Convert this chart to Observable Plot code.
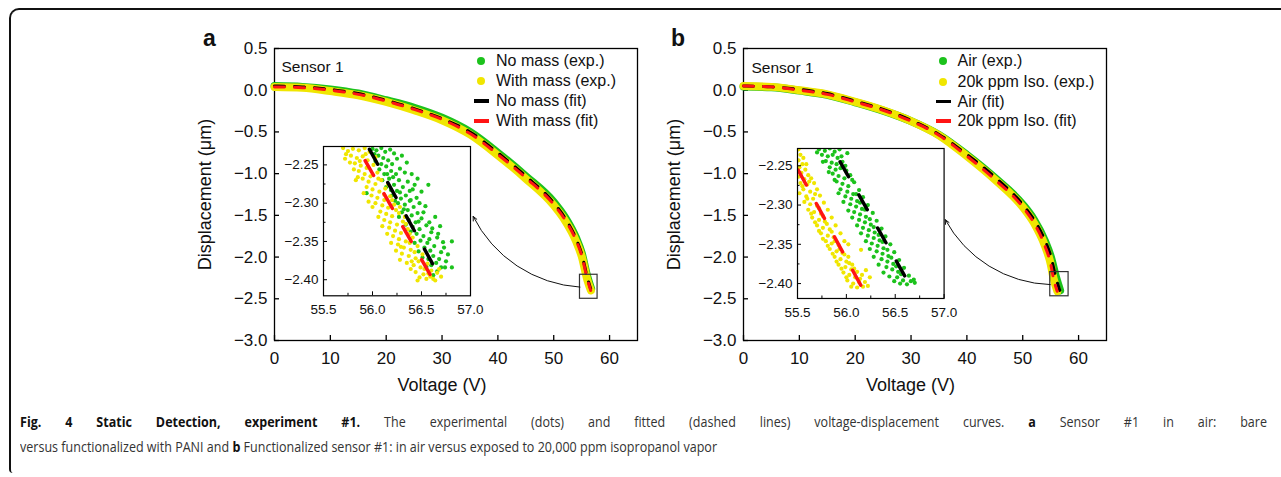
<!DOCTYPE html>
<html><head><meta charset="utf-8">
<script src="https://cdn.jsdelivr.net/npm/d3@7"></script>
<script src="https://cdn.jsdelivr.net/npm/@observablehq/plot@0.6"></script>
<style>
html,body{margin:0;padding:0;background:#fff;}
#fig{position:relative;width:1281px;height:477px;overflow:hidden;background:#fff;font-family:"Liberation Sans",Arial,Helvetica,sans-serif;color:#111;}
#border{position:absolute;left:9px;top:8px;width:1400px;height:463px;border-left:2px solid #111;border-top:2px solid #111;border-top-left-radius:10px;border-bottom-left-radius:4px;}
.abs{position:absolute;}
.plab{position:absolute;font-weight:bold;font-size:23px;line-height:1;}
.leg{position:absolute;font-size:16px;line-height:20px;height:20px;white-space:nowrap;}
.cap{position:absolute;left:20px;font-family:"Open Sans","Noto Sans",sans-serif;font-size:15px;color:#333;white-space:nowrap;transform-origin:0 50%;line-height:20px;}
.cap b{color:#111;}
</style>
</head><body>
<div id="fig"><div id="border"></div></div>
<script>
// ---------------- colours ----------------
const GREEN = "#1cc21c", YELLOW = "#f0e600", RED = "#ff1414", BLACK = "#000000";

// ---------------- ticks ----------------
const xTicksMain = [0, 10, 20, 30, 40, 50, 60];
const yTicksMain = [-3.0, -2.5, -2.0, -1.5, -1.0, -0.5, 0.0, 0.5];
const insetXTicks = [55.5, 56.0, 56.5, 57.0];
const insetXMinor = [55.75, 56.25, 56.75];
const insetYTicks = [-2.25, -2.30, -2.35, -2.40];
const insetYMinor = [-2.275, -2.325, -2.375];

// ---------------- panel a : main curves ----------------
const aVoltNoMassExp   = [0, 5, 10, 15, 20, 25, 30, 35, 40, 45, 50, 52, 54, 55, 56, 56.7];
const aDispNoMassExp   = [0.05, 0.04, 0.01, -0.04, -0.12, -0.21, -0.33, -0.50, -0.75, -1.03, -1.34, -1.52, -1.77, -1.95, -2.23, -2.38];
const aVoltWithMassExp = [0, 5, 10, 15, 20, 25, 30, 35, 40, 45, 50, 52, 54, 55, 56, 56.65];
const aDispWithMassExp = [0.04, 0.03, -0.01, -0.06, -0.14, -0.24, -0.36, -0.53, -0.78, -1.06, -1.38, -1.56, -1.81, -1.99, -2.27, -2.40];
const aVoltNoMassFit   = [0, 5, 10, 15, 20, 25, 30, 35, 40, 45, 50, 52, 54, 55, 56, 56.61];
const aDispNoMassFit   = [0.05, 0.04, 0.01, -0.04, -0.12, -0.22, -0.34, -0.50, -0.75, -1.03, -1.35, -1.53, -1.78, -1.96, -2.24, -2.38];
const aVoltWithMassFit = [0, 5, 10, 15, 20, 25, 30, 35, 40, 45, 50, 52, 54, 55, 56, 56.62];
const aDispWithMassFit = [0.04, 0.03, 0.00, -0.05, -0.13, -0.23, -0.35, -0.52, -0.77, -1.05, -1.37, -1.55, -1.80, -1.98, -2.26, -2.40];

// ---------------- panel b : main curves ----------------
const bVoltAirExp = [0, 5, 10, 15, 20, 25, 30, 35, 40, 45, 50, 52, 54, 55, 56, 56.7];
const bDispAirExp = [0.045, 0.035, -0.005, -0.055, -0.145, -0.245, -0.37, -0.535, -0.775, -1.05, -1.37, -1.55, -1.81, -1.99, -2.25, -2.40];
const bVoltIsoExp = [0, 5, 10, 15, 20, 25, 30, 35, 40, 45, 50, 52, 54, 55, 55.5, 56.2];
const bDispIsoExp = [0.05, 0.04, 0.00, -0.05, -0.14, -0.24, -0.37, -0.54, -0.79, -1.07, -1.40, -1.59, -1.87, -2.08, -2.25, -2.41];
const bVoltAirFit = [0, 5, 10, 15, 20, 25, 30, 35, 40, 45, 50, 52, 54, 55, 56, 56.64];
const bDispAirFit = [0.05, 0.04, 0.01, -0.04, -0.13, -0.23, -0.36, -0.53, -0.77, -1.04, -1.37, -1.55, -1.80, -1.98, -2.26, -2.40];
const bVoltIsoFit = [0, 5, 10, 15, 20, 25, 30, 35, 40, 45, 50, 52, 54, 55, 55.5, 56.17];
const bDispIsoFit = [0.05, 0.04, 0.00, -0.05, -0.14, -0.24, -0.37, -0.54, -0.79, -1.07, -1.40, -1.59, -1.87, -2.08, -2.25, -2.41];

// ---------------- panel a : inset (zoom) data ----------------
const aInsetNoMassExp = [[56.00,-2.229],[56.04,-2.231],[56.09,-2.228],[56.13,-2.233],[56.18,-2.230],[56.22,-2.235],[56.06,-2.238],[56.11,-2.241],[56.16,-2.244],[56.25,-2.242],[56.02,-2.236],[56.20,-2.249],[56.14,-2.252],[56.09,-2.249],[56.28,-2.255],[56.19,-2.258],[56.24,-2.262],[56.33,-2.260],[56.12,-2.262],[56.17,-2.268],[56.27,-2.270],[56.36,-2.272],[56.22,-2.276],[56.31,-2.279],[56.46,-2.268],[56.41,-2.282],[56.25,-2.284],[55.94,-2.287],[56.34,-2.290],[56.29,-2.294],[56.38,-2.297],[56.45,-2.293],[56.33,-2.302],[56.42,-2.305],[56.36,-2.309],[56.48,-2.300],[56.30,-2.312],[56.40,-2.316],[56.46,-2.313],[56.37,-2.322],[56.44,-2.325],[56.50,-2.320],[56.41,-2.331],[56.48,-2.334],[56.55,-2.329],[56.45,-2.340],[56.52,-2.343],[56.60,-2.338],[56.66,-2.345],[56.81,-2.350],[56.49,-2.349],[56.56,-2.352],[56.63,-2.356],[56.73,-2.358],[56.70,-2.364],[56.53,-2.358],[56.59,-2.362],[56.77,-2.367],[56.62,-2.369],[56.68,-2.373],[56.57,-2.373],[56.65,-2.378],[56.75,-2.376],[56.81,-2.384],[56.60,-2.381],[56.70,-2.384],[56.66,-2.389],[56.50,-2.285],[56.57,-2.276],[56.39,-2.296],[56.26,-2.300],[56.20,-2.290],[56.52,-2.312],[56.58,-2.325],[56.61,-2.333],[56.67,-2.340],
  [56.03,-2.245],[56.07,-2.256],[56.15,-2.262],[56.10,-2.270],[56.21,-2.266],[56.14,-2.279],[56.19,-2.283],[56.28,-2.286],[56.23,-2.297],[56.32,-2.308],[56.27,-2.318],[56.34,-2.328],[56.39,-2.337],[56.43,-2.352],[56.47,-2.363],[56.51,-2.371],[56.55,-2.383],[56.62,-2.394],[56.72,-2.351],[56.64,-2.318],[56.69,-2.330],[56.54,-2.304],[56.43,-2.276],[56.35,-2.247],[56.30,-2.238],[56.40,-2.262],[56.58,-2.347],[56.74,-2.384],[56.47,-2.324],[56.38,-2.284]];
const aInsetWithMassExp = [[55.70,-2.228],[55.75,-2.232],[55.80,-2.229],[55.86,-2.231],[55.92,-2.228],[55.97,-2.233],[55.78,-2.238],[55.84,-2.241],[55.90,-2.239],[55.95,-2.244],[55.73,-2.236],[55.82,-2.248],[55.88,-2.251],[55.94,-2.254],[56.01,-2.250],[55.86,-2.258],[55.92,-2.262],[55.98,-2.265],[56.05,-2.260],[55.90,-2.268],[55.96,-2.272],[56.03,-2.275],[56.09,-2.270],[55.94,-2.279],[56.00,-2.282],[56.07,-2.285],[56.13,-2.281],[55.99,-2.290],[56.05,-2.293],[56.12,-2.296],[56.18,-2.291],[56.03,-2.300],[56.10,-2.303],[56.16,-2.306],[56.22,-2.302],[56.08,-2.311],[56.14,-2.314],[56.20,-2.317],[56.27,-2.313],[56.12,-2.322],[56.18,-2.325],[56.25,-2.328],[56.31,-2.324],[56.17,-2.332],[56.23,-2.336],[56.29,-2.339],[56.36,-2.334],[56.21,-2.343],[56.27,-2.347],[56.34,-2.350],[56.41,-2.345],[56.26,-2.354],[56.32,-2.358],[56.39,-2.361],[56.46,-2.356],[56.30,-2.366],[56.37,-2.369],[56.44,-2.372],[56.51,-2.367],[56.35,-2.378],[56.42,-2.381],[56.49,-2.384],[56.56,-2.379],[56.44,-2.390],[56.52,-2.393],[56.59,-2.396],[56.66,-2.391],[56.62,-2.399],[56.70,-2.396],[56.55,-2.399],[56.48,-2.397],[56.28,-2.305],[56.33,-2.318],[56.38,-2.340],[56.60,-2.388],[55.85,-2.266],[56.00,-2.305],
  [55.72,-2.242],[55.77,-2.247],[55.81,-2.256],[55.87,-2.245],[55.93,-2.236],[56.03,-2.240],[55.83,-2.270],[56.06,-2.268],[55.91,-2.287],[56.16,-2.276],[55.96,-2.298],[56.20,-2.296],[56.06,-2.318],[56.24,-2.309],[56.10,-2.330],[56.34,-2.327],[56.15,-2.340],[56.38,-2.352],[56.19,-2.352],[56.43,-2.364],[56.24,-2.362],[56.47,-2.376],[56.28,-2.374],[56.53,-2.386],[56.39,-2.386],[56.57,-2.392],[56.46,-2.401],[56.64,-2.401],[56.68,-2.386],[56.12,-2.289],[56.29,-2.357],[56.40,-2.376]];
const aInsetNoMassFitX = [55.969, 56.612];
const aInsetNoMassFitY = [-2.2297, -2.379];
const aInsetWithMassFitX = [55.925, 56.622];
const aInsetWithMassFitY = [-2.2445, -2.401];
const aInsetYDomain = [-2.421, -2.226];

// ---------------- panel b : inset (zoom) data ----------------
const bInsetAirExp = [[55.72,-2.229],[55.78,-2.231],[55.83,-2.228],[55.88,-2.232],[55.93,-2.229],[55.75,-2.236],[55.81,-2.238],[55.86,-2.236],[55.91,-2.240],[56.01,-2.234],[55.79,-2.244],[55.85,-2.246],[55.90,-2.248],[55.96,-2.245],[55.83,-2.252],[55.89,-2.255],[55.94,-2.253],[56.00,-2.256],[55.86,-2.260],[55.92,-2.263],[55.98,-2.266],[56.04,-2.262],[55.90,-2.270],[55.96,-2.273],[56.02,-2.276],[56.08,-2.271],[55.94,-2.280],[56.01,-2.283],[56.07,-2.286],[56.13,-2.281],[55.99,-2.289],[56.05,-2.292],[56.11,-2.295],[56.17,-2.290],[56.04,-2.299],[56.10,-2.302],[56.16,-2.305],[56.22,-2.300],[56.08,-2.309],[56.14,-2.312],[56.20,-2.315],[56.27,-2.310],[56.13,-2.319],[56.19,-2.322],[56.25,-2.325],[56.31,-2.320],[56.17,-2.329],[56.23,-2.332],[56.29,-2.335],[56.36,-2.330],[56.22,-2.339],[56.28,-2.342],[56.34,-2.345],[56.40,-2.340],[56.26,-2.349],[56.32,-2.352],[56.38,-2.355],[56.45,-2.350],[56.31,-2.359],[56.37,-2.362],[56.43,-2.365],[56.49,-2.360],[56.36,-2.369],[56.42,-2.372],[56.48,-2.375],[56.54,-2.370],[56.41,-2.379],[56.47,-2.382],[56.53,-2.385],[56.59,-2.380],[56.44,-2.391],[56.52,-2.392],[56.58,-2.396],[56.64,-2.390],[56.69,-2.395],[56.62,-2.401],[56.55,-2.400],[56.70,-2.399],
  [55.76,-2.245],[55.95,-2.238],[55.82,-2.258],[55.99,-2.250],[55.88,-2.268],[56.06,-2.268],[55.92,-2.285],[56.10,-2.286],[55.97,-2.296],[56.14,-2.297],[56.02,-2.307],[56.19,-2.306],[56.06,-2.316],[56.24,-2.318],[56.11,-2.326],[56.28,-2.328],[56.15,-2.336],[56.33,-2.338],[56.20,-2.346],[56.37,-2.347],[56.24,-2.356],[56.42,-2.357],[56.28,-2.366],[56.46,-2.367],[56.33,-2.376],[56.51,-2.378],[56.38,-2.386],[56.56,-2.388],[56.49,-2.397],[56.66,-2.397],[55.70,-2.233]];
const bInsetIsoExp = [[55.51,-2.229],[55.53,-2.236],[55.51,-2.243],[55.55,-2.248],[55.52,-2.252],[55.58,-2.255],[55.54,-2.259],[55.61,-2.262],[55.51,-2.264],[55.57,-2.267],[55.64,-2.266],[55.53,-2.272],[55.60,-2.274],[55.67,-2.272],[55.56,-2.280],[55.63,-2.283],[55.70,-2.280],[55.52,-2.285],[55.59,-2.289],[55.66,-2.292],[55.73,-2.288],[55.57,-2.296],[55.63,-2.299],[55.70,-2.301],[55.77,-2.297],[55.61,-2.306],[55.67,-2.309],[55.74,-2.311],[55.81,-2.306],[55.65,-2.316],[55.72,-2.319],[55.78,-2.321],[55.85,-2.316],[55.70,-2.326],[55.76,-2.329],[55.83,-2.331],[55.89,-2.326],[55.74,-2.336],[55.81,-2.339],[55.87,-2.341],[55.94,-2.336],[55.79,-2.346],[55.85,-2.349],[55.92,-2.351],[55.98,-2.346],[56.02,-2.350],[55.83,-2.356],[55.90,-2.359],[55.96,-2.361],[56.02,-2.366],[55.88,-2.366],[55.94,-2.369],[56.00,-2.372],[56.06,-2.376],[55.92,-2.376],[55.99,-2.379],[56.05,-2.382],[56.11,-2.385],[55.97,-2.386],[56.03,-2.389],[56.09,-2.392],[56.16,-2.389],[56.20,-2.383],[56.01,-2.396],[56.07,-2.400],[56.13,-2.398],[56.17,-2.404],[56.24,-2.392],[56.22,-2.403],[56.11,-2.405],[56.15,-2.357],
  [55.56,-2.240],[55.59,-2.248],[55.50,-2.257],[55.62,-2.270],[55.55,-2.276],[55.68,-2.286],[55.60,-2.292],[55.72,-2.304],[55.64,-2.311],[55.76,-2.314],[55.68,-2.322],[55.80,-2.324],[55.72,-2.333],[55.85,-2.334],[55.76,-2.343],[55.88,-2.346],[55.81,-2.352],[55.93,-2.356],[55.86,-2.362],[55.98,-2.363],[55.90,-2.372],[56.03,-2.374],[55.95,-2.381],[56.08,-2.381],[56.00,-2.392],[56.14,-2.394],[56.05,-2.404],[56.19,-2.398],[55.53,-2.263]];
const bInsetAirFitX = [55.936, 56.642];
const bInsetAirFitY = [-2.245, -2.400];
const bInsetIsoFitX = [55.507, 56.175];
const bInsetIsoFitY = [-2.2555, -2.4085];
const bInsetYDomain = [-2.419, -2.228];

// ---------------- annotations (zoom box & arrow, in data units) ----------------
const aZoomBox = [54.7, 57.85, -2.5, -2.212];
const aArrow = [54.7, -2.36, 35.57, -1.512];
const bZoomBox = [54.93, 58.21, -2.47, -2.18];
const bArrow = [54.93, -2.33, 36.13, -1.552];

// ---------------- legends ----------------
const aLegend = ["No mass (exp.)", "With mass (exp.)", "No mass (fit)", "With mass (fit)"];
const bLegend = ["Air (exp.)", "20k ppm Iso. (exp.)", "Air (fit)", "20k ppm Iso. (fit)"];
const legendKinds = ["dotG", "dotY", "lineK", "lineR"];

const FONT = "'Liberation Sans', Arial, Helvetica, sans-serif";
const rows = (V, D) => V.map((v, i) => ({v, d: D[i]}));

function mainPlot(p) {
  const W = 460, H = 380, mL = 84, mR = 13, mT = 28, mB = 60;
  const iw = W - mL - mR, ih = H - mT - mB;
  return Plot.plot({
    width: W, height: H, marginLeft: mL, marginRight: mR, marginTop: mT, marginBottom: mB,
    style: {fontFamily: FONT, fontSize: "17px", color: "#111", background: "transparent", overflow: "visible"},
    x: {domain: [0, 65]},
    y: {domain: [-3, 0.5]},
    marks: [
      Plot.frame({stroke: "#000", strokeWidth: 1.3}),
      Plot.ruleX(xTicksMain, {x: d => d, insetTop: ih - 5, stroke: "#000", strokeWidth: 1.3}),
      Plot.ruleY(yTicksMain, {y: d => d, insetRight: iw - 5, stroke: "#000", strokeWidth: 1.3}),
      Plot.axisX({ticks: xTicksMain, tickSize: 0, tickPadding: 11, label: null, tickFormat: d => String(d)}),
      Plot.axisY({ticks: yTicksMain, tickSize: 0, tickPadding: 7, label: null, tickFormat: d3.format(".1f")}),
      Plot.line(rows(p.gV, p.gD), {x: "v", y: "d", stroke: GREEN, strokeWidth: 8, curve: "monotone-x", strokeLinecap: "round"}),
      Plot.line(rows(p.yV, p.yD), {x: "v", y: "d", stroke: YELLOW, strokeWidth: 8, curve: "monotone-x", strokeLinecap: "round"}),
      Plot.line(rows(p.kV, p.kD), {x: "v", y: "d", stroke: BLACK, strokeWidth: 3, curve: "monotone-x", strokeDasharray: "10,10"}),
      Plot.line(rows(p.rV, p.rD), {x: "v", y: "d", stroke: RED, strokeWidth: 3, curve: "monotone-x", strokeDasharray: "10,10"}),
      Plot.rect([p.box], {x1: b => b[0], x2: b => b[1], y1: b => b[2], y2: b => b[3], fill: "none", stroke: "#333", strokeWidth: 1.2}),
      Plot.arrow([p.arrow], {x1: a => a[0], y1: a => a[1], x2: a => a[2], y2: a => a[3], bend: 30, stroke: "#111", strokeWidth: 1, headLength: 7, headAngle: 50}),
      Plot.text(["Sensor 1"], {text: d => d, frameAnchor: "top-left", textAnchor: "start", lineAnchor: "middle", dx: p.sdx, dy: p.sdy, fontSize: 15.5}),
      Plot.text(["Voltage (V)"], {text: d => d, frameAnchor: "bottom", textAnchor: "middle", lineAnchor: "middle", dx: p.xldx, dy: 45, fontSize: 18}),
      Plot.text(["Displacement (μm)"], {text: d => d, frameAnchor: "left", textAnchor: "middle", rotate: -90, lineAnchor: "middle", dx: -69, fontSize: 18})
    ]
  });
}

function insetPlot(p) {
  const mL = 40, mR = 2, mT = 2, mB = 24;
  const iw = p.w, ih = p.h;
  return Plot.plot({
    width: mL + iw + mR, height: mT + ih + mB, marginLeft: mL, marginRight: mR, marginTop: mT, marginBottom: mB,
    style: {fontFamily: FONT, fontSize: "13.5px", color: "#111", background: "transparent", overflow: "visible"},
    x: {domain: [55.5, 57.0]},
    y: {domain: p.yDomain},
    marks: [
      Plot.frame({fill: "white", stroke: "none"}),
      Plot.dot(p.g, {x: d => d[0], y: d => d[1], r: 2.1, fill: GREEN, clip: true}),
      Plot.dot(p.yl, {x: d => d[0], y: d => d[1], r: 2.1, fill: YELLOW, clip: true}),
      Plot.line(rows(p.kX, p.kY), {x: "v", y: "d", stroke: BLACK, strokeWidth: 3.5, strokeDasharray: "17,21", clip: true}),
      Plot.line(rows(p.rX, p.rY), {x: "v", y: "d", stroke: RED, strokeWidth: 3.5, strokeDasharray: "17,21", clip: true}),
      Plot.ruleX(insetXTicks, {x: d => d, insetTop: ih - 4, stroke: "#000", strokeWidth: 1}),
      Plot.ruleX(insetXMinor, {x: d => d, insetTop: ih - 2.5, stroke: "#000", strokeWidth: 1}),
      Plot.ruleY(insetYTicks, {y: d => d, insetRight: iw - 4, stroke: "#000", strokeWidth: 1}),
      Plot.ruleY(insetYMinor, {y: d => d, insetRight: iw - 2.5, stroke: "#000", strokeWidth: 1}),
      Plot.axisX({ticks: insetXTicks, tickSize: 0, tickPadding: 8.5, label: null, tickFormat: d3.format(".1f")}),
      Plot.axisY({ticks: insetYTicks, tickSize: 0, tickPadding: 5, label: null, tickFormat: d3.format(".2f")}),
      Plot.frame({stroke: "#000", strokeWidth: 1.2})
    ]
  });
}

const fig = document.getElementById("fig");
function place(el, left, top) {
  const w = document.createElement("div");
  w.className = "abs"; w.style.left = left + "px"; w.style.top = top + "px";
  w.appendChild(el); fig.appendChild(w); return w;
}

// panel a
place(mainPlot({
  gV: aVoltNoMassExp, gD: aDispNoMassExp, yV: aVoltWithMassExp, yD: aDispWithMassExp,
  kV: aVoltNoMassFit, kD: aDispNoMassFit, rV: aVoltWithMassFit, rD: aDispWithMassFit,
  box: aZoomBox, arrow: aArrow, sdx: 7, sdy: 18.5, xldx: -14
}), 190, 20);
place(insetPlot({
  w: 147, h: 149.3, yDomain: aInsetYDomain, g: aInsetNoMassExp, yl: aInsetWithMassExp,
  kX: aInsetNoMassFitX, kY: aInsetNoMassFitY, rX: aInsetWithMassFitX, rY: aInsetWithMassFitY
}), 323.3 - 40, 145.7 - 2);

// panel b
place(mainPlot({
  gV: bVoltAirExp, gD: bDispAirExp, yV: bVoltIsoExp, yD: bDispIsoExp,
  kV: bVoltAirFit, kD: bDispAirFit, rV: bVoltIsoFit, rD: bDispIsoFit,
  box: bZoomBox, arrow: bArrow, sdx: 8, sdy: 19.5, xldx: -14.5
}), 659, 20);
place(insetPlot({
  w: 146.6, h: 150, yDomain: bInsetYDomain, g: bInsetAirExp, yl: bInsetIsoExp,
  kX: bInsetAirFitX, kY: bInsetAirFitY, rX: bInsetIsoFitX, rY: bInsetIsoFitY
}), 796.7 - 40, 148.3 - 2);

// panel letters
function label(t, left, top) { const d = document.createElement("div"); d.className = "plab"; d.textContent = t; d.style.left = left + "px"; d.style.top = top + "px"; fig.appendChild(d); }
label("a", 203, 27);
label("b", 671, 27);

// legends
function legend(items, dotX, textX, rowY) {
  items.forEach((t, i) => {
    const cy = rowY[i], kind = legendKinds[i];
    const sw = document.createElement("div");
    if (kind.startsWith("dot")) {
      sw.style.cssText = `position:absolute;left:${dotX - 4}px;top:${cy - 4}px;width:8px;height:8px;border-radius:50%;background:${kind === "dotG" ? GREEN : YELLOW};`;
    } else {
      sw.style.cssText = `position:absolute;left:${dotX - 7.5}px;top:${cy - 1.75}px;width:15px;height:3.5px;background:${kind === "lineK" ? BLACK : RED};`;
    }
    fig.appendChild(sw);
    const tx = document.createElement("div"); tx.className = "leg"; tx.textContent = t;
    tx.style.left = textX + "px"; tx.style.top = (cy - 10) + "px";
    fig.appendChild(tx);
  });
}
legend(aLegend, 481, 496, [61, 81, 101, 121]);
legend(bLegend, 943, 957.5, [61, 81.5, 101.5, 121]);

// caption: justified first line (stretched word spaces), last line natural
const cap1 = document.createElement("div"); cap1.className = "cap"; cap1.style.top = "411px";
cap1.innerHTML = "<b>Fig. 4 Static Detection, experiment #1.</b> The experimental (dots) and fitted (dashed lines) voltage-displacement curves. <b>a</b> Sensor #1 in air: bare";
const cap2 = document.createElement("div"); cap2.className = "cap"; cap2.style.top = "436px";
cap2.innerHTML = "versus functionalized with PANI and <b>b</b> Functionalized sensor #1: in air versus exposed to 20,000 ppm isopropanol vapor";
fig.appendChild(cap1); fig.appendChild(cap2);
const w2 = cap2.getBoundingClientRect().width;
const s = 697 / w2;
cap2.style.transform = `scaleX(${s})`;
const w1 = cap1.getBoundingClientRect().width;
const nSp = (cap1.textContent.match(/ /g) || []).length;
const extra = (1247 / s - w1) / nSp;
if (extra > 0) {
  cap1.style.wordSpacing = extra + "px";
  cap1.style.transform = `scaleX(${s})`;
  const w1b = cap1.getBoundingClientRect().width;
  cap1.style.transform = `scaleX(${s * 1247 / w1b})`;
} else {
  cap1.style.transform = `scaleX(${1247 / w1})`;
}
</script>
</body></html>
